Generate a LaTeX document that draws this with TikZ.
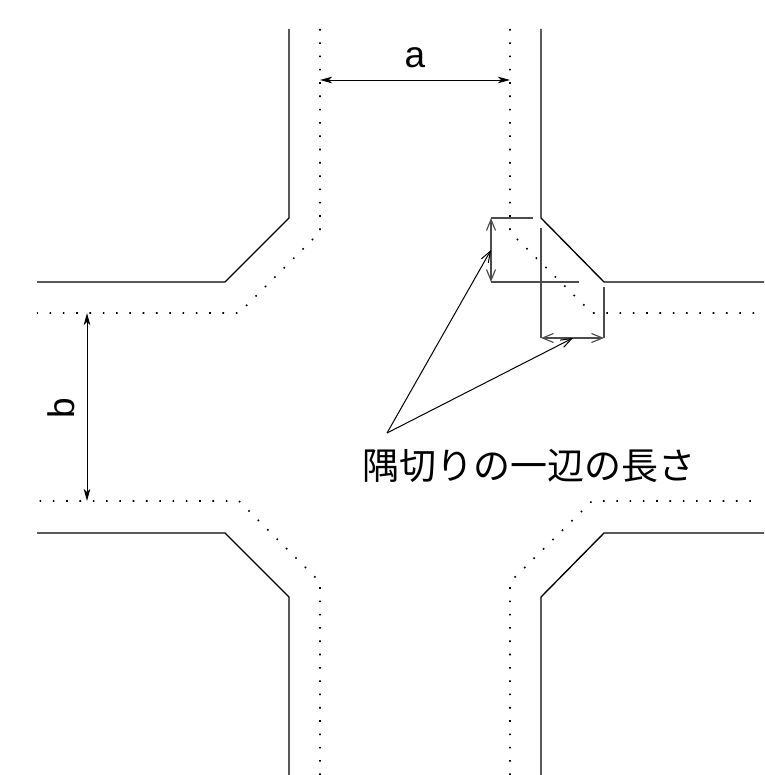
\documentclass[tikz,border=0pt]{standalone}
\usepackage{fontspec}
\setmainfont{Liberation Sans}
\newfontfamily\cjk{Noto Sans CJK JP}
\usepackage{tikz}
\usetikzlibrary{arrows.meta}

\begin{document}
\begin{tikzpicture}[>={Stealth[length=12pt,width=6.5pt,inset=3pt]},x=1pt,y=-1pt,
    road/.style={line width=1.35pt},
    extline/.style={line width=1.15pt,black!70},
    center/.style={line width=1.6pt,dash pattern=on 1.6pt off 11.7pt},
    dim/.style={<->,line width=.95pt},
    corner/.style={<->,>={Straight Barb[length=11pt,width=9pt]},line width=1.15pt,black!70},
    leader/.style={->,>={Straight Barb[length=11pt,width=8pt]},line width=1pt},
    lbl/.style={font=\fontsize{37}{37}\selectfont,inner sep=0pt},
  ]
        \useasboundingbox (0,0) rectangle (764,775);
        \coordinate (tl1) at (289,29);  \coordinate (tl2) at (289,218); \coordinate (tl3) at (225,282); \coordinate (tl4) at (37,282);
        \coordinate (tr1) at (541,29);  \coordinate (tr2) at (541,218); \coordinate (tr3) at (604,282); \coordinate (tr4) at (764,282);
        \coordinate (bl1) at (289,775); \coordinate (bl2) at (289,597); \coordinate (bl3) at (225,533); \coordinate (bl4) at (37,533);
        \coordinate (br1) at (541,775); \coordinate (br2) at (541,597); \coordinate (br3) at (604,533); \coordinate (br4) at (764,533);
        \draw[road] (tl1) -- (tl2) -- (tl3) -- (tl4);
        \draw[road] (tr1) -- (tr2) -- (tr3) -- (tr4);
        \draw[road] (bl1) -- (bl2) -- (bl3) -- (bl4);
        \draw[road] (br1) -- (br2) -- (br3) -- (br4);
        % center lines
        \coordinate (cl1) at (320,29);  \coordinate (cl2) at (320,232); \coordinate (cl3) at (239,313); \coordinate (cl4) at (37,313);
        \coordinate (cr1) at (510,29);  \coordinate (cr2) at (510,232); \coordinate (cr3) at (592,313); \coordinate (cr4) at (757,313);
        \coordinate (dl1) at (320,775); \coordinate (dl2) at (320,582); \coordinate (dl3) at (239,501); \coordinate (dl4) at (37,501);
        \coordinate (dr1) at (510,775); \coordinate (dr2) at (510,582); \coordinate (dr3) at (592,501); \coordinate (dr4) at (757,501);
        \draw[center] (cl1) -- (cl2) -- (cl3) -- (cl4);
        \draw[center] (cr1) -- (cr2) -- (cr3) -- (cr4);
        \draw[center] (dl1) -- (dl2) -- (dl3) -- (dl4);
        \draw[center] (dr1) -- (dr2) -- (dr3) -- (dr4);
        % widths
        \coordinate (wa1) at (320,80);  \coordinate (wa2) at (510,80);
        \coordinate (wb1) at (87,313);  \coordinate (wb2) at (87,501);
        \draw[dim] (wa1) -- (wa2);
        \draw[dim] (wb1) -- (wb2);
        \node[lbl] (la) at (415,58) {a};
        \node[lbl,rotate=90] (lb) at (61,408) {b};
        % corner cut
        \coordinate (v1) at (491,218);  \coordinate (v2) at (491,282);
        \coordinate (v3) at (533,218);  \coordinate (v4) at (579,282);
        \coordinate (h1) at (541,338);  \coordinate (h2) at (604,338);
        \coordinate (h3) at (541,228);  \coordinate (h4) at (604,287);
        \draw[extline] (v3) -- (v1);
        \draw[extline] (v2) -- (v4);
        \draw[extline] (h3) -- (h1);
        \draw[extline] (h4) -- (h2);
        \draw[corner] (v1) -- (v2);
        \draw[corner] (h1) -- (h2);
        % label with leaders
        \coordinate (tip) at (387,433);
        \coordinate (e1) at (491,250);  \coordinate (e2) at (573,338);
        \draw[leader] (tip) -- (e1);
        \draw[leader] (tip) -- (e2);
        \node[lbl] (cap) at (529,466) {\cjk 隅切りの一辺の長さ};
      \end{tikzpicture}
\end{document}
